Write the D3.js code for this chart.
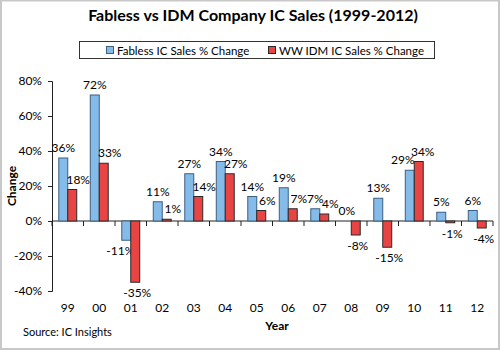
<!DOCTYPE html>
<html>
<head>
<meta charset="utf-8">
<script src="https://cdn.jsdelivr.net/npm/d3@7"></script>
<style>
  body { margin: 0; background: #fff; }
  svg { font-family: Lato, "Open Sans", sans-serif; }
</style>
</head>
<body>
<script>
// chart data
let years = ["99", "00", "01", "02", "03", "04", "05", "06", "07", "08", "09", "10", "11", "12"];
let fabless = [36, 72, -11, 11, 27, 34, 14, 19, 7, 0, 13, 29, 5, 6];
let idm = [18, 33, -35, 1, 14, 27, 6, 7, 4, -8, -15, 34, -1, -4];
let seriesNames = ["Fabless IC Sales % Change", "WW IDM IC Sales % Change"];
let yTicks = [-40, -20, 0, 20, 40, 60, 80];

let W = 500, H = 350;
let margin = {top: 81, right: 7, bottom: 59, left: 52};
let width = W - margin.left - margin.right,
    height = H - margin.top - margin.bottom;

let colors = ["#85bbe8", "#e84444"];
let strokes = ["#3d5f80", "#2a2a2a"];

let svg = d3.select("body")
    .append("svg")
    .attr("width", W)
    .attr("height", H);

// outer frame
svg.append("rect")
    .attr("x", 1).attr("y", 0.5)
    .attr("width", W - 2).attr("height", H - 1.5)
    .attr("fill", "#fff")
    .attr("stroke", "#c8c8c8")
    .attr("stroke-width", 2);

// title
svg.append("text")
    .attr("x", 253).attr("y", 21)
    .attr("text-anchor", "middle")
    .attr("font-size", 16)
    .attr("font-weight", "bold")
    .text("Fabless vs IDM Company IC Sales (1999-2012)");

// legend
let legend = svg.append("g");
legend.append("rect")
    .attr("x", 79.5).attr("y", 41.5)
    .attr("width", 355).attr("height", 17)
    .attr("fill", "#fff")
    .attr("stroke", "#333");
let legendX = [106, 268];
seriesNames.forEach(function(name, i) {
    legend.append("rect")
        .attr("x", legendX[i] + 0.5).attr("y", 46.5)
        .attr("width", 7).attr("height", 7)
        .attr("fill", colors[i])
        .attr("stroke", strokes[i]);
    legend.append("text")
        .attr("x", legendX[i] + 11).attr("y", 54.5)
        .attr("font-size", 11.5)
        .text(name);
});

let g = svg.append("g")
    .attr("transform", "translate(" + margin.left + "," + margin.top + ")");

let x = d3.scaleBand()
    .domain(years)
    .range([0, width])
    .paddingInner(0.43)
    .paddingOuter(0.215);

let xSub = d3.scaleBand()
    .domain([0, 1])
    .range([0, x.bandwidth()]);

let y = d3.scaleLinear()
    .domain([-40, 80])
    .range([height, 0]);

// Y axis
let yAxis = g.append("g")
    .call(d3.axisLeft(y).tickValues(yTicks).tickFormat(d => d + "%").tickSizeOuter(0).tickSize(4));
yAxis.select(".domain").attr("stroke", "#222");
yAxis.selectAll(".tick line").attr("stroke", "#222");
yAxis.selectAll("text").attr("font-size", 12).attr("font-family", "Lato, sans-serif").attr("fill", "#000").attr("dx", "-3");

// X axis at 0 with ticks between categories
let xAxis = g.append("g").attr("transform", "translate(0," + y(0) + ")");
xAxis.append("line")
    .attr("x1", 0).attr("x2", width)
    .attr("stroke", "#222");
xAxis.selectAll(".xt")
    .data(d3.range(years.length + 1))
    .join("line")
    .attr("x1", i => i * width / years.length)
    .attr("x2", i => i * width / years.length)
    .attr("y1", 0).attr("y2", 5)
    .attr("stroke", "#222");

// year labels
g.selectAll(".yr")
    .data(years)
    .join("text")
    .attr("x", d => x(d) + x.bandwidth() / 2)
    .attr("y", 231)
    .attr("text-anchor", "middle")
    .attr("font-size", 12)
    .text(d => d);

// bars
let series = [fabless, idm];
series.forEach(function(vals, s) {
    g.selectAll(".bar" + s)
        .data(vals)
        .join("rect")
        .attr("x", (d, i) => x(years[i]) + xSub(s))
        .attr("y", d => y(Math.max(0, d)))
        .attr("width", xSub.bandwidth())
        .attr("height", d => Math.abs(y(d) - y(0)))
        .attr("fill", colors[s])
        .attr("stroke", strokes[s])
        .attr("stroke-width", 1);

    g.selectAll(".lab" + s)
        .data(vals)
        .join("text")
        .attr("x", function(d, i) {
            let cx = x(years[i]) + xSub(s) + xSub.bandwidth() / 2;
            if (s === 1) {
                if (d > fabless[i]) return cx + 4;
                return cx + (d > 0 ? 6 : 2);
            }
            if (d > 0 && idm[i] > d) return cx - 7;
            return cx + (d < 0 ? -6 : 0);
        })
        .attr("y", d => d >= 0 ? y(d) - 6 : y(d) + 15)
        .attr("text-anchor", "middle")
        .attr("font-size", 12)
        .text(d => d + "%");
});

// axis titles
svg.append("text")
    .attr("transform", "translate(16,186) rotate(-90)")
    .attr("text-anchor", "middle")
    .attr("font-size", 12)
    .attr("font-weight", "bold")
    .text("Change");

svg.append("text")
    .attr("x", 277).attr("y", 330)
    .attr("text-anchor", "middle")
    .attr("font-size", 12)
    .attr("font-weight", "bold")
    .text("Year");

svg.append("text")
    .attr("x", 23).attr("y", 336)
    .attr("font-size", 11)
    .text("Source: IC Insights");
</script>
</body>
</html>
